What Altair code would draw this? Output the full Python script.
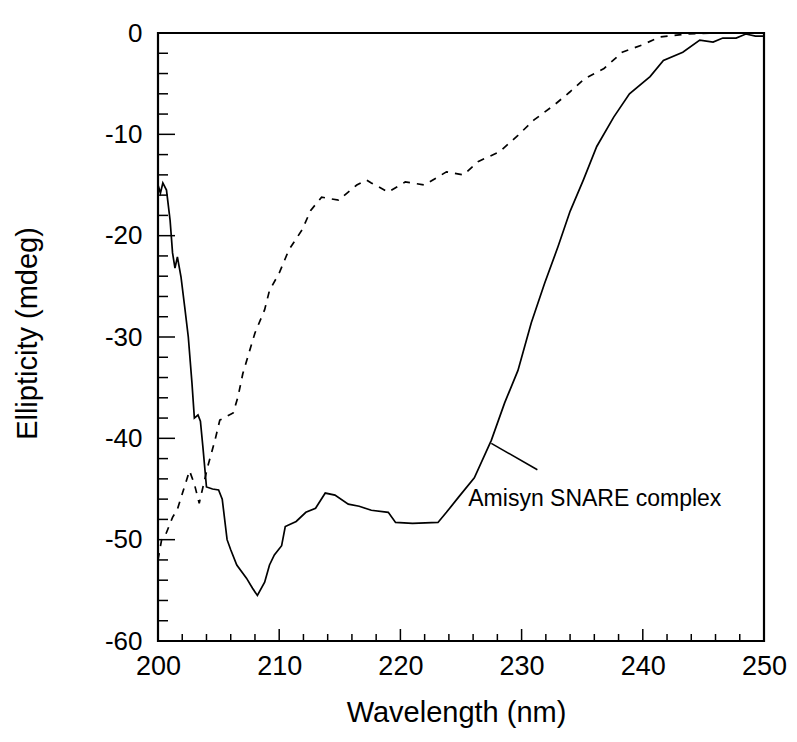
import altair as alt
import pandas as pd

# Amisyn SNARE complex (solid)
solid_x = [200.0, 200.2, 200.4, 200.7, 200.9, 201.0, 201.1, 201.2, 201.4, 201.6, 201.9, 202.2,
           202.5, 202.8, 203.0, 203.3, 203.5, 203.7, 204.0, 204.5, 205.0, 205.3, 205.7, 206.0,
           206.5, 207.3, 207.8, 208.2, 208.8, 209.2, 209.6, 210.2, 210.5, 211.4, 212.2, 213.0,
           213.8, 214.6, 215.7, 216.6, 217.6, 219.0, 219.6, 221.0, 223.1, 223.8, 224.8, 226.1,
           227.5, 228.6, 229.7, 230.8, 231.9, 233.0, 234.0, 235.1, 236.2, 237.6, 238.9, 240.6,
           241.7, 243.3, 244.7, 245.8, 246.6, 247.7, 248.5, 249.3, 250.0]
solid_y = [-15.0, -15.8, -14.8, -15.5, -17.5, -18.5, -20.1, -21.7, -23.2, -22.1, -24.1, -27.0,
           -30.0, -34.5, -38.0, -37.7, -38.3, -40.8, -44.8, -45.0, -45.1, -46.0, -50.0, -51.0,
           -52.5, -53.8, -54.8, -55.5, -54.2, -52.5, -51.5, -50.6, -48.7, -48.2, -47.3, -46.9,
           -45.4, -45.6, -46.5, -46.7, -47.1, -47.3, -48.3, -48.4, -48.3, -47.3, -45.8, -43.9,
           -40.2, -36.5, -33.3, -28.6, -24.7, -21.1, -17.6, -14.5, -11.2, -8.3, -6.0, -4.3,
           -2.7, -1.9, -0.7, -0.9, -0.5, -0.5, -0.1, -0.3, -0.3]

# second sample (dashed)
dash_x = [200.0, 200.3, 200.6, 201.2, 201.6, 202.1, 202.6, 203.0, 203.4, 204.1, 204.7, 205.1,
          206.2, 206.6, 207.0, 207.5, 208.0, 208.8, 209.2, 210.0, 210.8, 211.9, 212.6, 213.5,
          214.9, 216.4, 217.2, 217.6, 219.0, 220.4, 222.0, 223.8, 225.2, 226.4, 228.2, 229.7,
          231.0, 232.7, 234.0, 235.2, 236.8, 238.3, 239.9, 241.4, 243.6, 246.0, 250.0]
dash_y = [-52.0, -50.0, -49.6, -47.8, -47.0, -45.1, -43.2, -44.5, -46.4, -42.8, -40.2, -38.2,
          -37.5, -35.9, -33.6, -31.6, -29.6, -27.3, -25.4, -23.7, -21.4, -19.4, -17.5, -16.2,
          -16.5, -15.0, -14.5, -14.8, -15.7, -14.7, -15.0, -13.7, -14.0, -12.7, -11.7, -10.1,
          -8.6, -7.1, -5.8, -4.5, -3.5, -1.9, -1.2, -0.4, -0.1, 0.0, 0.0]

x_major = [210, 220, 230, 240]
x_minor = [202, 204, 206, 208, 212, 214, 216, 218, 222, 224, 226, 228,
           232, 234, 236, 238, 242, 244, 246, 248]
y_major = [-10, -20, -30, -40, -50]
y_minor = [-2, -4, -6, -8, -12, -14, -16, -18, -22, -24, -26, -28,
           -32, -34, -36, -38, -42, -44, -46, -48, -52, -54, -56, -58]
x_labels = [200, 210, 220, 230, 240, 250]
y_labels = [0, -10, -20, -30, -40, -50, -60]

label_text = ["Amisyn SNARE complex"]
label_pos = [(225.6, -46.0)]
pointer = [(227.5, -40.5, 231.3, -43.1)]

W, H = 606, 608
FONT = "Liberation Sans"

xs = alt.Scale(domain=[200, 250], nice=False, zero=False, padding=0)
ys = alt.Scale(domain=[-60, 0], nice=False, zero=False, padding=0)

df_s = pd.DataFrame({"x": solid_x, "y": solid_y})
df_d = pd.DataFrame({"x": dash_x, "y": dash_y})

xaxis = alt.Axis(values=x_labels, ticks=False, domain=False, grid=False, title="Wavelength (nm)",
                 labelFontSize=27, labelFont=FONT, labelColor="black", labelPadding=12,
                 labelFlush=False, labelOverlap=False,
                 titleFontSize=29, titleFont=FONT, titleFontWeight="normal", titleColor="black",
                 titleX=298, titleY=71, titleBaseline="middle", titleAlign="center")
yaxis = alt.Axis(values=y_labels, ticks=False, domain=False, grid=False, title="Ellipticity (mdeg)",
                 labelFontSize=26, labelFont=FONT, labelColor="black", labelPadding=16,
                 labelBaseline="middle", labelFlush=False, labelOverlap=False,
                 labelExpr="replace(datum.label, '−', '-')",
                 titleFontSize=29, titleFont=FONT, titleFontWeight="normal", titleColor="black",
                 titleX=-131, titleY=300, titleBaseline="middle", titleAlign="center", titleAngle=-90)

solid = alt.Chart(df_s).mark_line(color="black", strokeWidth=1.7, clip=True).encode(
    x=alt.X("x:Q", scale=xs, axis=xaxis),
    y=alt.Y("y:Q", scale=ys, axis=yaxis),
)
dashed = alt.Chart(df_d).mark_line(color="black", strokeWidth=1.7, strokeDash=[7, 7], clip=True).encode(
    x=alt.X("x:Q", scale=xs),
    y=alt.Y("y:Q", scale=ys),
)

xt_major = alt.Chart(pd.DataFrame({"x": x_major})).mark_rule(color="black", strokeWidth=1.5).encode(
    x=alt.X("x:Q", scale=xs), y=alt.value(H), y2=alt.value(H - 12))
xt_minor = alt.Chart(pd.DataFrame({"x": x_minor})).mark_rule(color="black", strokeWidth=1.5).encode(
    x=alt.X("x:Q", scale=xs), y=alt.value(H), y2=alt.value(H - 7))
yt_major = alt.Chart(pd.DataFrame({"y": y_major})).mark_rule(color="black", strokeWidth=1.5).encode(
    y=alt.Y("y:Q", scale=ys), x=alt.value(0), x2=alt.value(17))
yt_minor = alt.Chart(pd.DataFrame({"y": y_minor})).mark_rule(color="black", strokeWidth=1.5).encode(
    y=alt.Y("y:Q", scale=ys), x=alt.value(0), x2=alt.value(10))

ann_df = pd.DataFrame({"x": [p[0] for p in label_pos], "y": [p[1] for p in label_pos], "t": label_text})
ann = alt.Chart(ann_df).mark_text(align="left", baseline="middle", fontSize=23, font=FONT,
                                  color="black").encode(
    x=alt.X("x:Q", scale=xs), y=alt.Y("y:Q", scale=ys), text="t:N")

ptr_df = pd.DataFrame({"x": [p[0] for p in pointer], "y": [p[1] for p in pointer],
                       "x2": [p[2] for p in pointer], "y2": [p[3] for p in pointer]})
ptr = alt.Chart(ptr_df).mark_rule(color="black", strokeWidth=1.5).encode(
    x=alt.X("x:Q", scale=xs), y=alt.Y("y:Q", scale=ys), x2="x2:Q", y2="y2:Q")

chart = alt.layer(solid, dashed, xt_major, xt_minor, yt_major, yt_minor, ptr, ann).properties(
    width=W, height=H,
    autosize=alt.AutoSizeParams(type="none"),
    padding={"left": 150, "top": 25, "right": 25, "bottom": 93},
    background="white",
).configure_view(stroke="black", strokeWidth=2.2)

chart.save("out.html", embed_options={"renderer": "svg", "actions": False})
